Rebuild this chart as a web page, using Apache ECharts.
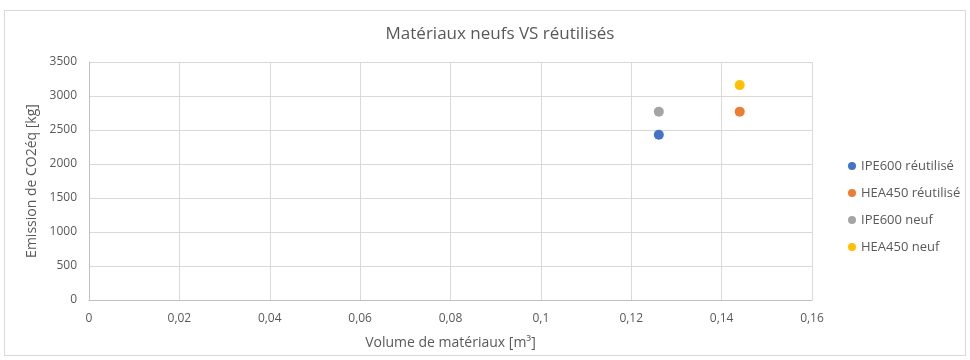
<!DOCTYPE html>
<html>
<head>
<meta charset="utf-8">
<script src="https://cdn.jsdelivr.net/npm/echarts@6/dist/echarts.min.js"></script>
<style>
  html, body { margin: 0; padding: 0; background: #fff; }
  #frame { position: absolute; left: 4px; top: 10px; width: 962px; height: 346px; border: 1px solid #d9d9d9; box-sizing: border-box; }
  #chart { position: absolute; left: 0; top: 0; width: 970px; height: 360px; }
</style>
</head>
<body>
<div id="frame"></div>
<div id="chart"></div>
<script>
// Series names and their (volume m³, emission kg CO2eq) points
const seriesNames = ['IPE600 réutilisé', 'HEA450 réutilisé', 'IPE600 neuf', 'HEA450 neuf'];
const seriesColors = ['#4472c4', '#ed7d31', '#a5a5a5', '#ffc000'];
const volumes = [0.1261, 0.1440, 0.1261, 0.1440];
const emissions = [2430, 2770, 2770, 3160];

const fontFamily = '"Open Sans", "Liberation Sans", sans-serif';
const textColor = '#595959';

const chart = echarts.init(document.getElementById('chart'), null, { renderer: 'canvas' });

chart.setOption({
  animation: false,
  title: {
    text: 'Matériaux neufs VS réutilisés',
    left: 495,
    top: 21,
    textAlign: 'center',
    textStyle: { fontFamily, fontSize: 17, fontWeight: 'normal', color: textColor }
  },
  legend: {
    orient: 'vertical',
    left: 843,
    top: 153,
    itemGap: 11,
    itemWidth: 8,
    itemHeight: 8,
    itemStyle: { opacity: 1 },
    icon: 'circle',
    data: seriesNames,
    textStyle: { fontFamily, fontSize: 13, lineHeight: 16, color: textColor }
  },
  grid: { left: 89, right: 158, top: 62, bottom: 60 },
  xAxis: {
    type: 'value',
    min: 0, max: 0.16, interval: 0.02,
    name: 'Volume de matériaux [m³]',
    nameLocation: 'middle',
    nameGap: 36,
    nameTextStyle: { fontFamily, fontSize: 14, color: textColor },
    axisLine: { show: true, lineStyle: { color: '#bfbfbf' } },
    axisTick: { show: false },
    axisLabel: {
      fontFamily, fontSize: 12, color: textColor, margin: 13,
      formatter: v => String(Math.round(v * 100) / 100).replace('.', ',')
    },
    splitLine: { show: true, lineStyle: { color: '#d9d9d9' } }
  },
  yAxis: {
    type: 'value',
    min: 0, max: 3500, interval: 500,
    name: 'Emission de CO2éq [kg]',
    nameLocation: 'middle',
    nameGap: 40,
    nameTextStyle: { fontFamily, fontSize: 14, color: textColor },
    axisLine: { show: true, lineStyle: { color: '#bfbfbf' } },
    axisTick: { show: false },
    axisLabel: { fontFamily, fontSize: 12, color: textColor, margin: 12, formatter: v => String(v) },
    splitLine: { show: true, lineStyle: { color: '#d9d9d9' } }
  },
  series: seriesNames.map((name, i) => ({
    name,
    type: 'scatter',
    symbol: 'circle',
    symbolSize: 10,
    itemStyle: { color: seriesColors[i], opacity: 1 },
    data: [[volumes[i], emissions[i]]]
  }))
});
</script>
</body>
</html>
